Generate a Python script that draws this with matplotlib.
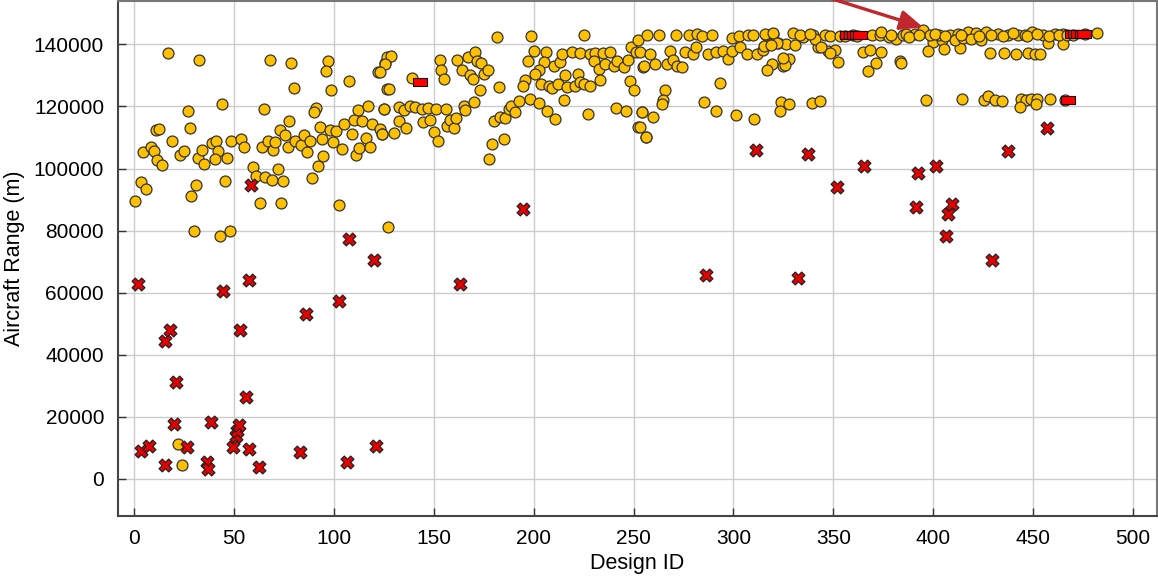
import numpy as np
import matplotlib.pyplot as plt

plt.rcParams['font.family'] = ['Liberation Sans', 'DejaVu Sans']

# feasible designs (yellow circles): design id, range in m
feasible_id = [
    17, 32.5, 68, 78.7, 97, 96, 80, 98.7, 107.7, 122, 125.5, 126.7, 126.7, 44, 27, 65, 91, 90, 112, 117,
    125, 11, 12.7, 28, 77.7, 73, 75.8, 93, 98, 101, 105, 110, 114, 119, 123, 124, 109, 116, 4.5, 8.3,
    10, 11.3, 13.8, 18.8, 22.8, 25, 32, 33.8, 35, 39, 40.8, 42, 40.3, 46.8, 48.8, 53.8, 55, 64, 67, 69.5,
    70.8, 77, 80.8, 83.5, 85.3, 88, 86.8, 94, 94.8, 99.8, 104, 111.3, 112.8, 118, 92, 59.8, 61.2, 65.8, 69.2, 72,
    74.7, 89.2, 3.7, 6.2, 31, 45.7, 28.7, 0.5, 63, 73.7, 102.5, 29.8, 42.8, 48.2, 127, 21.8, 23.8,
    128.8, 125.8, 123.3, 127.5, 139.2, 153, 153.7, 155, 161.8, 164.2, 167, 170.8, 171.6, 173.8, 168, 169.5, 175, 177, 173, 182.8,
    181.7, 198.8, 225, 200, 197, 206, 205, 202.5, 200.8, 195.8, 194.7, 210, 213, 214, 219, 223.3, 228.3, 230.8, 234.6, 238,
    230, 232.5, 235.8, 240, 241.6, 245, 247, 248.6, 252.5, 256.6, 251.3, 255, 203.8, 207.5, 209, 212, 215.8, 216.6, 220.8, 222,
    223.3, 225.3, 228, 233, 248.3, 250, 215.3, 227.2, 241.2, 246.2, 254.2, 252.5, 256.2, 125, 132.5, 135, 138, 140.8, 144.1, 147.1,
    151.1, 156.1, 165.3, 170, 165.8, 124.1, 130, 132.5, 136.3, 144.6, 148.3, 150, 152, 156.6, 158.3, 160.3, 161.3, 180, 183.3, 185.8,
    187.5, 188.6, 190.8, 192.5, 198.3, 202.5, 206.6, 210.5, 179.1, 185, 177.5,
    263, 271.2, 278, 281.6, 284.1, 289.1, 299.1, 303, 307.5, 309.6, 316.3, 320, 322.5, 326.3, 329.6, 330.8, 335, 340, 342.5, 345.8,
    348.3, 353.3, 369.6, 373.3, 378, 381.6, 385, 253.3, 258.3, 255.3, 260.8, 266.6, 268.3, 269.6, 272, 274.1, 275.8, 279.6, 281.3, 287.5,
    291.3, 295, 297.5, 299.1, 303.3, 306.6, 311.6, 314.6, 319.1, 317, 325, 328, 347.5, 350.8, 352.5, 365, 368.3, 374.1, 371.3, 367.5,
    383.3, 293.3, 265.8, 265, 264.1, 285.5, 291.3, 301.3, 310.5, 323.8, 327.8, 323.5, 339.1, 343.3, 254.1, 260, 253.3, 256.3,
    315.3, 340.8, 333.3, 338.3, 348.3, 315.8, 320, 326, 344, 322, 319, 325,
    356, 360, 362, 374.1, 379.1, 390.8, 395, 400, 404.6, 397.5, 405.5, 413.3,
    386.6, 398.3, 403, 408.3, 412.5, 417.5, 421.6, 426.6, 432.5, 437.5, 442.5, 445.8, 449.5, 455, 460.8, 465, 482,
    410.8, 415, 419.1, 424.1, 457.5, 465, 428.3, 435.5, 441.3, 447.5, 450.8, 453.6, 384.1,
    388, 393, 401, 406, 414, 423, 429, 435, 440, 447, 452, 458, 463, 467, 470, 476,
    396.3, 414.6, 425.3, 427.5, 430.8, 434.6, 444.1, 446.6, 449.1, 452, 451.6, 443.6, 458.3, 466.1,
]
feasible_range = [
    137200, 134950, 134950, 133900, 134600, 131300, 125800, 125200, 128100, 131000, 133900, 136100, 125700, 120800, 118500, 119250, 119500, 118200, 118900, 120000,
    119100, 112300, 112600, 113000, 115200, 112300, 110700, 113300, 112500, 112200, 114300, 115700, 115300, 114400, 112800, 111100, 111100, 109700, 105300, 107100,
    105600, 102800, 101200, 109000, 104400, 105700, 103400, 106000, 101500, 108100, 109000, 105600, 103100, 103400, 109000, 109500, 107100, 107100, 109000, 106000,
    108400, 107100, 109000, 107600, 110700, 109000, 105200, 109600, 104100, 108500, 106400, 104400, 106700, 107100, 100800, 100400, 97600, 97200, 96300, 99800,
    96000, 96900, 95800, 93400, 94700, 96000, 91000, 89400, 88800, 89000, 88400, 79900, 78300, 79900, 81300, 11200, 4500,
    136200, 133800, 131100, 125700, 129300, 134950, 131600, 128900, 134950, 131900, 136100, 137500, 134800, 134000, 130000, 128900, 130500, 131600, 125400, 126200,
    142400, 142800, 143100, 137900, 134500, 137500, 134300, 131600, 130500, 128400, 126600, 133200, 134300, 137000, 137500, 137300, 137000, 137300, 137300, 137500,
    134600, 132000, 133700, 132900, 134800, 132700, 135100, 139100, 141500, 142900, 137500, 132700, 127300, 126500, 126000, 127300, 130000, 126200, 126500, 130500,
    128000, 127300, 126500, 128400, 128100, 125200, 122000, 117600, 119600, 118500, 118100, 113300, 110300, 119300, 119800, 118900, 120000, 119800, 119300, 119600,
    119300, 119300, 120300, 121400, 118900, 111200, 111400, 115300, 113100, 115000, 115800, 111900, 109000, 113700, 115500, 113100, 116200, 115200, 116600, 116400,
    119300, 120300, 118200, 121900, 122500, 121200, 118500, 115900, 107800, 109400, 103100,
    142900, 142900, 142900, 143400, 142700, 142900, 142100, 142700, 142900, 142900, 143200, 143400, 140500, 140000, 143700, 139700, 142400, 142900, 139100, 142900,
    142700, 142700, 142900, 142900, 142400, 141800, 142900, 137500, 137000, 132900, 133800, 133800, 137900, 135100, 133200, 132700, 137500, 137000, 139100, 137000,
    137500, 137900, 135400, 137900, 139100, 137000, 137000, 138300, 133800, 131600, 133200, 135400, 137900, 138100, 134300, 137500, 138300, 137500, 134000, 131400,
    134600, 127600, 125400, 122200, 120800, 121400, 118500, 117300, 115900, 121600, 120700, 118400, 121100, 121900, 118200, 116600, 113300, 110300,
    139400, 141600, 143000, 143500, 137100, 143500, 143700, 133300, 139200, 140500, 139900, 135500,
    142800, 143000, 142600, 144000, 143000, 143500, 144600, 140900, 141300, 137900, 138400, 138800,
    143400, 142900, 142900, 143200, 143400, 144000, 143700, 144000, 143400, 143200, 143200, 143200, 144000, 143200, 143400, 143400, 143800,
    141400, 142200, 141700, 141400, 140400, 140000, 137100, 137100, 136800, 137100, 136800, 136800, 133900,
    142500, 143000, 143500, 142600, 143000, 142600, 143200, 142800, 143600, 142700, 143500, 142800, 143000, 143200, 143200, 143300,
    122000, 122300, 122000, 123300, 122200, 121700, 122500, 122200, 122500, 122500, 120800, 119900, 122500, 122000,
]

# infeasible designs (red crosses)
infeasible_id = [
    2, 3.4, 7.3, 15.3, 15.5, 18, 20.1, 20.8, 26.4, 36.6, 37.2, 38.3, 44.7, 49.8, 51.1, 51.7, 52.7, 53, 56.2, 57.7,
    57.8, 58.8, 62.5, 83.3, 86.3, 102.5, 106.7, 107.5, 120, 121.3, 163, 194.5, 286.1, 311.1, 332.5, 337.5, 351.6, 365.3,
    391.6, 392.6, 401.6, 406.6, 407.5, 409.6, 429.6, 437.5, 457,
]
infeasible_range = [
    62800, 9000, 10600, 44400, 4300, 47800, 17800, 31200, 10100, 5500, 3200, 18300, 60500, 10100, 13800, 15400, 17200, 48100, 26300, 9600,
    64200, 94700, 3900, 8500, 53100, 57200, 5500, 77200, 70600, 10600, 62800, 87000, 65600, 106100, 64700, 104700, 94000, 100700,
    87700, 98400, 100700, 78300, 85300, 88500, 70600, 105800, 113100,
]

# highlighted designs (red bars)
selected_id = [143, 356.8, 359, 360.5, 362, 363.2, 469.5, 471, 472.5, 474.5, 475.5, 467.5]
selected_range = [127800, 143000, 143000, 143000, 143000, 143000, 143500, 143500, 143500, 143500, 143500, 122000]

# best design pointed at by the arrow
best_id, best_range = 395, 145500

fig = plt.figure(figsize=(11.58, 5.8), dpi=100)
ax = fig.add_axes([118 / 1158, 1 - 516 / 580, 1039 / 1158, 515 / 580])

ax.scatter(feasible_id, feasible_range, s=62, c='#ffc000', edgecolors='#333333', linewidths=0.9, zorder=3)
ax.scatter(infeasible_id, infeasible_range, s=85, marker='X', c='#e60000', edgecolors='#222222', linewidths=0.9, zorder=4)
bar = [(-1, -0.5), (1, -0.5), (1, 0.5), (-1, 0.5), (-1, -0.5)]
ax.scatter(selected_id, selected_range, s=110, marker=bar, c='#ff0000', edgecolors='#111111', linewidths=0.8, zorder=5)

ax.annotate('', xy=(best_id, best_range), xytext=(323, 160000),
            arrowprops=dict(arrowstyle='-|>,head_length=0.7,head_width=0.3', color='#c0282d',
                            lw=2.4, mutation_scale=20, shrinkA=0, shrinkB=0),
            annotation_clip=False, zorder=6)

ax.set_xlim(-8, 512)
ax.set_ylim(-12000, 154000)
ax.set_xticks(np.arange(0, 501, 50))
ax.set_yticks(np.arange(0, 140001, 20000))
ax.grid(True, color='#cccccc', lw=1.0, zorder=0)
ax.set_axisbelow(True)

ax.tick_params(direction='in', length=6, width=1, color='#333333', labelsize=15)
ax.tick_params(axis='x', pad=9)
ax.tick_params(axis='y', pad=10)
for side in ['left', 'bottom']:
    ax.spines[side].set_color('#444444')
    ax.spines[side].set_linewidth(1.5)
for side in ['top', 'right']:
    ax.spines[side].set_color('#777777')
    ax.spines[side].set_linewidth(1.5)

ax.set_xlabel('Design ID', fontsize=15.5, labelpad=4)
ax.set_ylabel('Aircraft Range (m)', fontsize=15.5, labelpad=6)

fig.savefig('out.png', dpi=100)
